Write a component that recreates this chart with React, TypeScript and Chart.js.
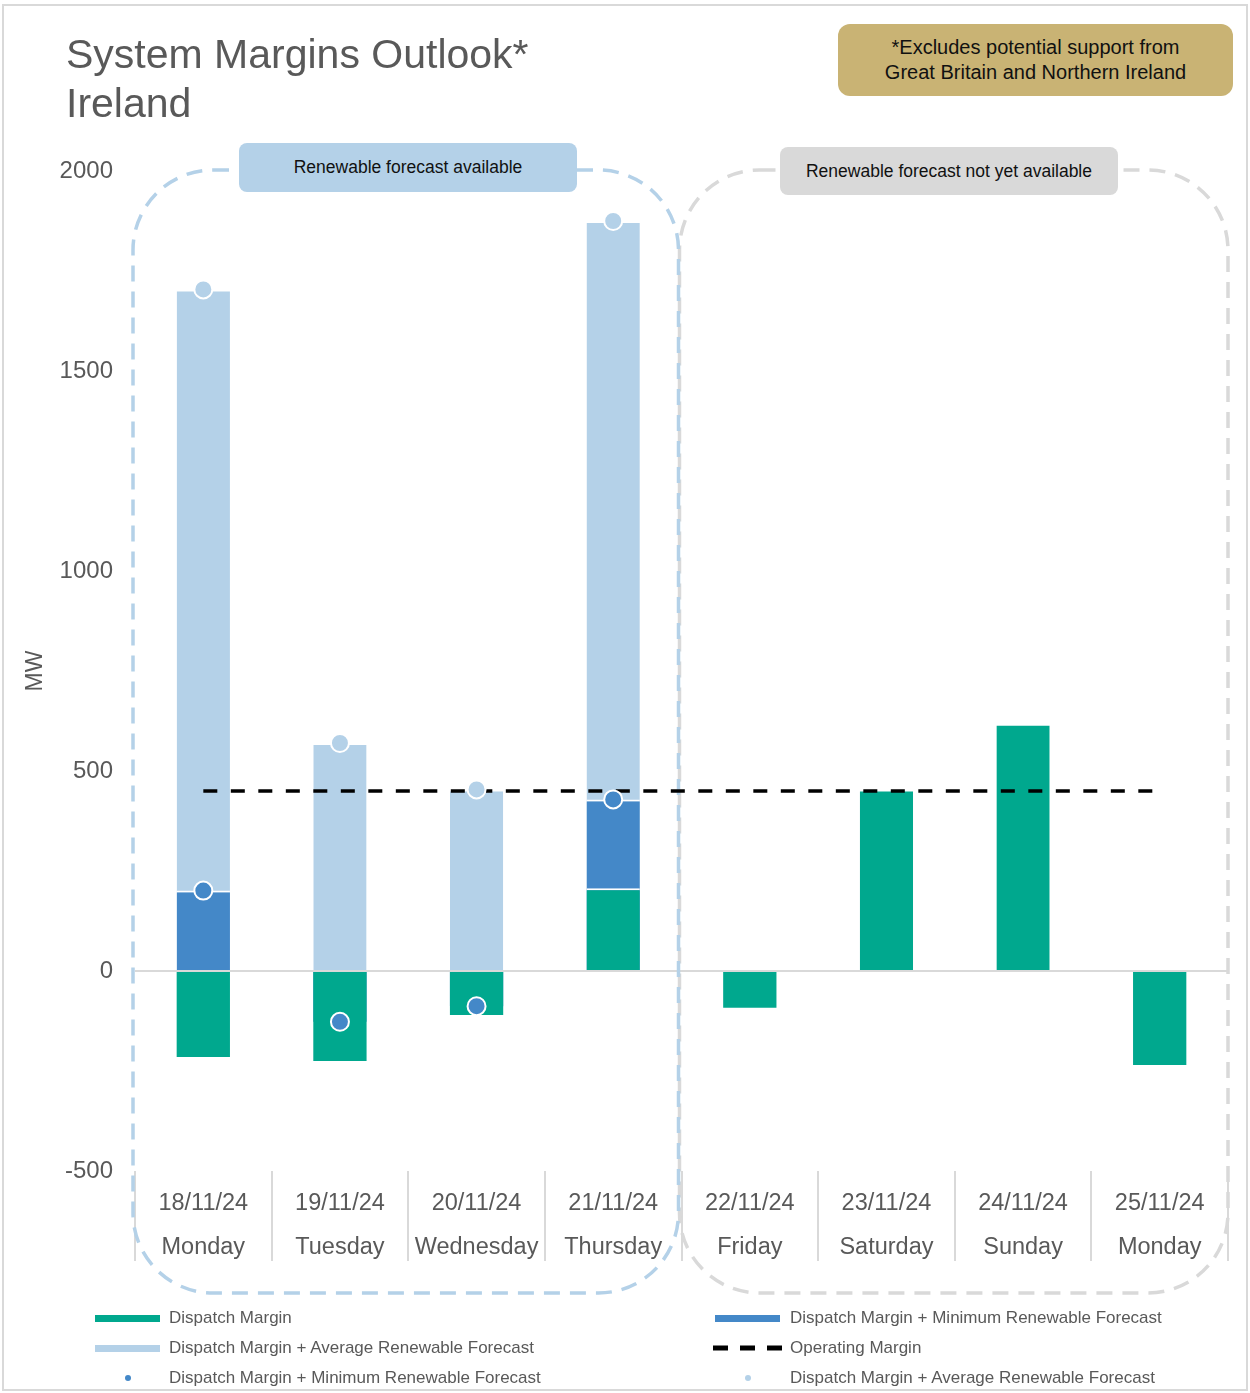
import React, { useEffect, useRef } from "react";
import { Chart, registerables } from "chart.js";

Chart.register(...registerables);

// ---- Data ----
const dates = ["18/11/24", "19/11/24", "20/11/24", "21/11/24", "22/11/24", "23/11/24", "24/11/24", "25/11/24"];
const days = ["Monday", "Tuesday", "Wednesday", "Thursday", "Friday", "Saturday", "Sunday", "Monday"];
const dispatchMargin = [-215, -225, -110, 207, -92, 454, 618, -235];
const minRenewable = [201, -127, -88, 429, null, null, null, null];
const avgRenewable = [1704, 570, 454, 1875, null, null, null, null];
const operatingMargin = [450, 450, 450, 450, 450, 450, 450, 450];
const yMin = -500;
const yMax = 2000;
const yStep = 500;

const GREEN = "#00a88e";
const DARK_BLUE = "#4488c8";
const LIGHT_BLUE = "#b4d1e8";
const GREY = "#d9d9d9";
const TEXT = "#595959";
const FONT = "'Liberation Sans', Arial, sans-serif";

const groupBoxes = {
  id: "groupBoxes",
  beforeDatasetsDraw(chart: any) {
    const { ctx, chartArea, scales } = chart;
    const x = scales.x;
    const y = scales.y;
    const mid = (x.getPixelForTick(3) + x.getPixelForTick(4)) / 2;
    const top = y.getPixelForValue(yMax) - 1;
    const bottom = chartArea.bottom + 122;
    ctx.save();
    ctx.lineWidth = 3.5;
    ctx.setLineDash([16, 10]);
    ctx.strokeStyle = GREY;
    ctx.beginPath();
    ctx.roundRect(mid - 2, top, chartArea.right - (mid - 2), bottom - top, 80);
    ctx.stroke();
    ctx.strokeStyle = LIGHT_BLUE;
    ctx.beginPath();
    ctx.roundRect(chartArea.left - 2, top, mid - 3 - (chartArea.left - 2), bottom - top, 80);
    ctx.stroke();
    ctx.restore();
  },
};

function ChartCanvas() {
  const ref = useRef<HTMLCanvasElement | null>(null);
  useEffect(() => {
    if (!ref.current) return;
    const barCommon = {
      type: "bar" as const,
      borderColor: "#ffffff",
      borderWidth: { top: 2, bottom: 0, left: 0, right: 0 },
      borderSkipped: "start" as const,
      grouped: false,
      barPercentage: 0.39,
      categoryPercentage: 1,
    };
    const chart = new Chart(ref.current, {
      type: "bar",
      data: {
        labels: dates.map((d, i) => [d, days[i]]),
        datasets: [
          { ...barCommon, label: "Dispatch Margin + Average Renewable Forecast", data: avgRenewable as any, backgroundColor: LIGHT_BLUE, order: 5 },
          { ...barCommon, label: "Dispatch Margin + Minimum Renewable Forecast", data: minRenewable as any, backgroundColor: DARK_BLUE, order: 4 },
          { ...barCommon, label: "Dispatch Margin", data: dispatchMargin, backgroundColor: GREEN, order: 3 },
          {
            type: "line",
            label: "Operating Margin",
            data: operatingMargin,
            borderColor: "#000000",
            borderWidth: 3.5,
            borderDash: [14, 13.5],
            pointRadius: 0,
            fill: false,
            order: 2,
          } as any,
          {
            type: "line",
            label: "Dispatch Margin + Minimum Renewable Forecast",
            data: minRenewable as any,
            showLine: false,
            pointRadius: 9,
            pointBackgroundColor: DARK_BLUE,
            pointBorderColor: "#ffffff",
            pointBorderWidth: 2,
            order: 1,
          } as any,
          {
            type: "line",
            label: "Dispatch Margin + Average Renewable Forecast",
            data: avgRenewable as any,
            showLine: false,
            pointRadius: 9,
            pointBackgroundColor: LIGHT_BLUE,
            pointBorderColor: "#ffffff",
            pointBorderWidth: 2,
            order: 0,
          } as any,
        ],
      },
      options: {
        responsive: false,
        animation: false,
        devicePixelRatio: 1,
        layout: { padding: { left: 0, right: 22, top: 171, bottom: 122 } },
        plugins: { legend: { display: false }, tooltip: { enabled: false } },
        scales: {
          x: {
            type: "category",
            offset: true,
            border: { display: false },
            grid: {
              offset: true,
              drawOnChartArea: false,
              drawTicks: true,
              tickLength: 90,
              color: GREY,
              tickColor: GREY,
              tickWidth: 2,
              lineWidth: 2,
            },
            ticks: {
              color: TEXT,
              font: { family: FONT, size: 23.5, lineHeight: 44 / 23.5 },
              padding: -79,
              autoSkip: false,
              maxRotation: 0,
              minRotation: 0,
            },
            afterFit: (s: any) => {
              s.height = 100;
            },
          },
          y: {
            min: yMin,
            max: yMax,
            border: { display: false },
            grid: {
              drawTicks: false,
              color: (c: any) => (c.tick && c.tick.value === 0 ? GREY : "rgba(0,0,0,0)"),
              lineWidth: 2,
            },
            ticks: {
              stepSize: yStep,
              color: TEXT,
              padding: 22,
              font: { family: FONT, size: 24 },
              callback: (v: any) => String(v),
            },
            title: {
              display: true,
              text: "MW",
              color: TEXT,
              font: { family: FONT, size: 23 },
              padding: { top: 22, bottom: 0 },
            },
            afterFit: (s: any) => {
              s.width = 135;
            },
          },
        },
      },
      plugins: [groupBoxes],
    });
    return () => chart.destroy();
  }, []);
  return <canvas ref={ref} width={1250} height={1393} style={{ position: "absolute", left: 0, top: 0, width: 1250, height: 1393 }} />;
}

type LegendItem = { label: string; kind: "bar" | "dash" | "dot"; color: string };
const legendLeft: LegendItem[] = [
  { label: "Dispatch Margin", kind: "bar", color: GREEN },
  { label: "Dispatch Margin + Average Renewable Forecast", kind: "bar", color: LIGHT_BLUE },
  { label: "Dispatch Margin + Minimum Renewable Forecast", kind: "dot", color: DARK_BLUE },
];
const legendRight: LegendItem[] = [
  { label: "Dispatch Margin + Minimum Renewable Forecast", kind: "bar", color: DARK_BLUE },
  { label: "Operating Margin", kind: "dash", color: "#000000" },
  { label: "Dispatch Margin + Average Renewable Forecast", kind: "dot", color: LIGHT_BLUE },
];

function Swatch({ item }: { item: LegendItem }) {
  if (item.kind === "bar") {
    return <div style={{ width: 65, height: 7, background: item.color }} />;
  }
  if (item.kind === "dash") {
    return (
      <svg width={70} height={8} style={{ display: "block" }}>
        <line x1={0} y1={4} x2={70} y2={4} stroke={item.color} strokeWidth={5} strokeDasharray="15 12" />
      </svg>
    );
  }
  return (
    <div style={{ width: 65, height: 7, display: "flex", justifyContent: "center", alignItems: "center" }}>
      <div style={{ width: 6, height: 6, borderRadius: 3, background: item.color }} />
    </div>
  );
}

function LegendColumn({ items, swatchLeft, textLeft }: { items: LegendItem[]; swatchLeft: number; textLeft: number }) {
  const rows = [1318, 1348, 1378];
  return (
    <>
      {items.map((it, i) => (
        <React.Fragment key={i}>
          <div style={{ position: "absolute", left: it.kind === "dash" ? swatchLeft - 2 : swatchLeft, top: rows[i] - 4, height: 8, display: "flex", alignItems: "center" }}>
            <Swatch item={it} />
          </div>
          <div
            style={{
              position: "absolute",
              left: textLeft,
              top: rows[i] - 12,
              height: 24,
              lineHeight: "24px",
              fontSize: 17,
              color: TEXT,
              fontFamily: FONT,
              whiteSpace: "nowrap",
            }}
          >
            {it.label}
          </div>
        </React.Fragment>
      ))}
    </>
  );
}

export default function App() {
  useEffect(() => {
    document.body.style.margin = "0";
  }, []);
  const boxText = { fontFamily: FONT, color: "#111111", whiteSpace: "nowrap" as const };
  return (
    <div style={{ position: "relative", width: 1250, height: 1393, background: "#ffffff", overflow: "hidden" }}>
      <div style={{ position: "absolute", left: 2, top: 4, width: 1246, height: 1387, border: `2px solid ${GREY}`, boxSizing: "border-box" }} />
      <ChartCanvas />
      <div style={{ position: "absolute", left: 66, top: 30, fontFamily: FONT, fontSize: 41, lineHeight: "49px", color: TEXT, whiteSpace: "nowrap" }}>
        System Margins Outlook*
        <br />
        Ireland
      </div>
      <div
        style={{
          position: "absolute",
          left: 838,
          top: 24,
          width: 395,
          height: 72,
          borderRadius: 12,
          background: "#c9b374",
          display: "flex",
          flexDirection: "column",
          alignItems: "center",
          justifyContent: "center",
          fontSize: 20,
          lineHeight: "25px",
          ...boxText,
        }}
      >
        <div>*Excludes potential support from</div>
        <div>Great Britain and Northern Ireland</div>
      </div>
      <div
        style={{
          position: "absolute",
          left: 239,
          top: 143,
          width: 338,
          height: 49,
          borderRadius: 8,
          background: LIGHT_BLUE,
          display: "flex",
          alignItems: "center",
          justifyContent: "center",
          fontSize: 17.5,
          ...boxText,
        }}
      >
        Renewable forecast available
      </div>
      <div
        style={{
          position: "absolute",
          left: 780,
          top: 147,
          width: 338,
          height: 48,
          borderRadius: 8,
          background: GREY,
          display: "flex",
          alignItems: "center",
          justifyContent: "center",
          fontSize: 17.5,
          ...boxText,
        }}
      >
        Renewable forecast not yet available
      </div>
      <LegendColumn items={legendLeft} swatchLeft={95} textLeft={169} />
      <LegendColumn items={legendRight} swatchLeft={715} textLeft={790} />
    </div>
  );
}
